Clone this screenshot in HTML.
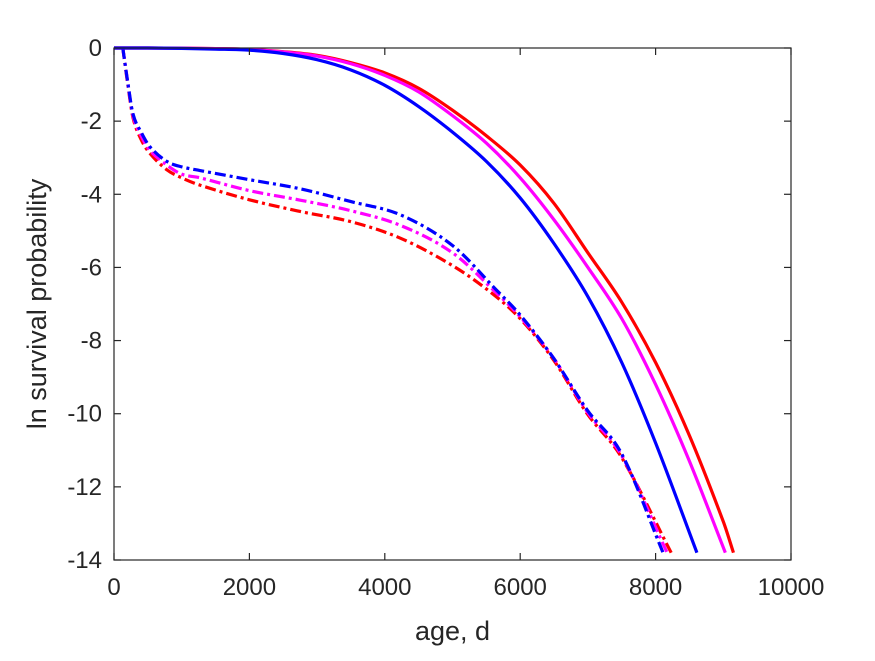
<!DOCTYPE html>
<html><head><meta charset="utf-8"><style>
body{margin:0;background:#fff;}
svg text{font-family:"Liberation Sans",sans-serif;fill:#262626;}
</style></head><body>
<svg width="875" height="656" xmlns="http://www.w3.org/2000/svg">
<rect width="875" height="656" fill="#fff"/>
<g id="plot"></g>
<g id="axes"></g>
</svg>
<script>
const xTicks=[0,2000,4000,6000,8000,10000];
const yTicks=[0,-2,-4,-6,-8,-10,-12,-14];
const redSolidX=[0,500,1000,1500,2000,2500,3000,3500,4000,4500,5000,5500,6000,6500,7000,7500,8000,8500,9000,9150];
const redSolidY=[0,0,-0.005,-0.015,-0.04,-0.1,-0.2,-0.4,-0.68,-1.1,-1.7,-2.4,-3.2,-4.25,-5.6,-6.95,-8.6,-10.6,-12.95,-13.8];
const magSolidX=[0,500,1000,1500,2000,2500,3000,3500,4000,4500,5000,5500,6000,6500,7000,7500,8000,8500,9030];
const magSolidY=[0,0,-0.005,-0.015,-0.04,-0.11,-0.22,-0.43,-0.75,-1.2,-1.85,-2.6,-3.55,-4.7,-6.0,-7.4,-9.2,-11.3,-13.8];
const blueSolidX=[0,500,1000,1500,2000,2500,3000,3500,4000,4500,5000,5500,6000,6500,7000,7500,8000,8610];
const blueSolidY=[0,0,-0.01,-0.03,-0.06,-0.15,-0.32,-0.6,-1.02,-1.6,-2.3,-3.1,-4.1,-5.35,-6.8,-8.6,-10.8,-13.8];
const redDashX=[130,200,280,400,530,780,1000,1270,2000,2750,3500,4230,5000,5550,6000,6500,6990,7500,8230];
const redDashY=[0,-0.95,-1.9,-2.5,-2.88,-3.33,-3.55,-3.75,-4.15,-4.47,-4.75,-5.2,-5.95,-6.66,-7.4,-8.55,-10.0,-11.2,-13.8];
const magDashX=[130,200,280,400,530,780,1000,1270,2000,2750,3500,4230,5000,5650,6000,6500,6990,7500,8170];
const magDashY=[0,-0.9,-1.85,-2.4,-2.8,-3.2,-3.45,-3.55,-3.9,-4.16,-4.45,-4.85,-5.6,-6.7,-7.35,-8.5,-9.95,-11.15,-13.8];
const blueDashX=[130,200,280,400,530,780,1000,1270,2000,2750,3500,4230,5000,5650,6000,6500,6990,7500,8110];
const blueDashY=[0,-0.9,-1.8,-2.3,-2.7,-3.1,-3.25,-3.35,-3.6,-3.85,-4.2,-4.56,-5.4,-6.62,-7.3,-8.5,-9.9,-11.1,-13.8];

const L=114,R=791,T=48,B=560;
const sx=v=>L+(v-0)/10000*(R-L);
const sy=v=>T+(0-v)/14*(B-T);
const NS="http://www.w3.org/2000/svg";
const plot=document.getElementById('plot'), axes=document.getElementById('axes');
function mk(tag,attrs,parent){const e=document.createElementNS(NS,tag);for(const k in attrs)e.setAttribute(k,attrs[k]);parent.appendChild(e);return e;}
function pathD(xs,ys){
  const p=xs.map((x,i)=>[sx(x),sy(ys[i])]);
  const n=p.length;
  const m=p.map((q,i)=>{
    const a=p[Math.max(0,i-1)], b=p[Math.min(n-1,i+1)];
    return (b[1]-a[1])/(b[0]-a[0]);
  });
  let d='M'+p[0][0]+','+p[0][1];
  for(let i=0;i<n-1;i++){
    const dx=(p[i+1][0]-p[i][0])/3;
    d+=` C${p[i][0]+dx},${p[i][1]+m[i]*dx} ${p[i+1][0]-dx},${p[i+1][1]-m[i+1]*dx} ${p[i+1][0]},${p[i+1][1]}`;
  }
  return d;
}
const series=[
 [redDashX,redDashY,'#ff0000',true,'red-dashed-line'],
 [magDashX,magDashY,'#ff00ff',true,'magenta-dashed-line'],
 [blueDashX,blueDashY,'#0000ff',true,'blue-dashed-line'],
 [redSolidX,redSolidY,'#ff0000',false,'red-solid-line'],
 [magSolidX,magSolidY,'#ff00ff',false,'magenta-solid-line'],
 [blueSolidX,blueSolidY,'#0000ff',false,'blue-solid-line']
];
series.forEach(s=>{
  const e=mk('path',{d:pathD(s[0],s[1]),fill:'none',stroke:s[2],'stroke-width':3.2},plot);
  if(s[3])e.setAttribute('stroke-dasharray','11 4 3 4');
  
  
});
const box=mk('rect',{x:L,y:T,width:R-L,height:B-T,fill:'none',stroke:'#262626','stroke-width':1.2},axes);


xTicks.forEach(v=>{
  const x=sx(v);
  mk('line',{x1:x,x2:x,y1:B,y2:B-7,stroke:'#262626','stroke-width':1.2},axes);
  mk('line',{x1:x,x2:x,y1:T,y2:T+7,stroke:'#262626','stroke-width':1.2},axes);
  const t=mk('text',{x:x,y:B+35,'text-anchor':'middle','font-size':24},axes);
  t.textContent=v;
  
  
});
yTicks.forEach(v=>{
  const y=sy(v);
  mk('line',{x1:L,x2:L+7,y1:y,y2:y,stroke:'#262626','stroke-width':1.2},axes);
  mk('line',{x1:R,x2:R-7,y1:y,y2:y,stroke:'#262626','stroke-width':1.2},axes);
  const t=mk('text',{x:L-12,y:y+8,'text-anchor':'end','font-size':24},axes);
  t.textContent=v===0?'0':'-'+Math.abs(v);
  
  
});
const xl=mk('text',{x:(L+R)/2,y:640,'text-anchor':'middle','font-size':27},axes);
xl.textContent='age, d';


const yl=mk('text',{x:0,y:0,'text-anchor':'middle','font-size':27,transform:`translate(46,${(T+B)/2}) rotate(-90)`},axes);
yl.textContent='ln survival probability';


</script>
</body></html>
